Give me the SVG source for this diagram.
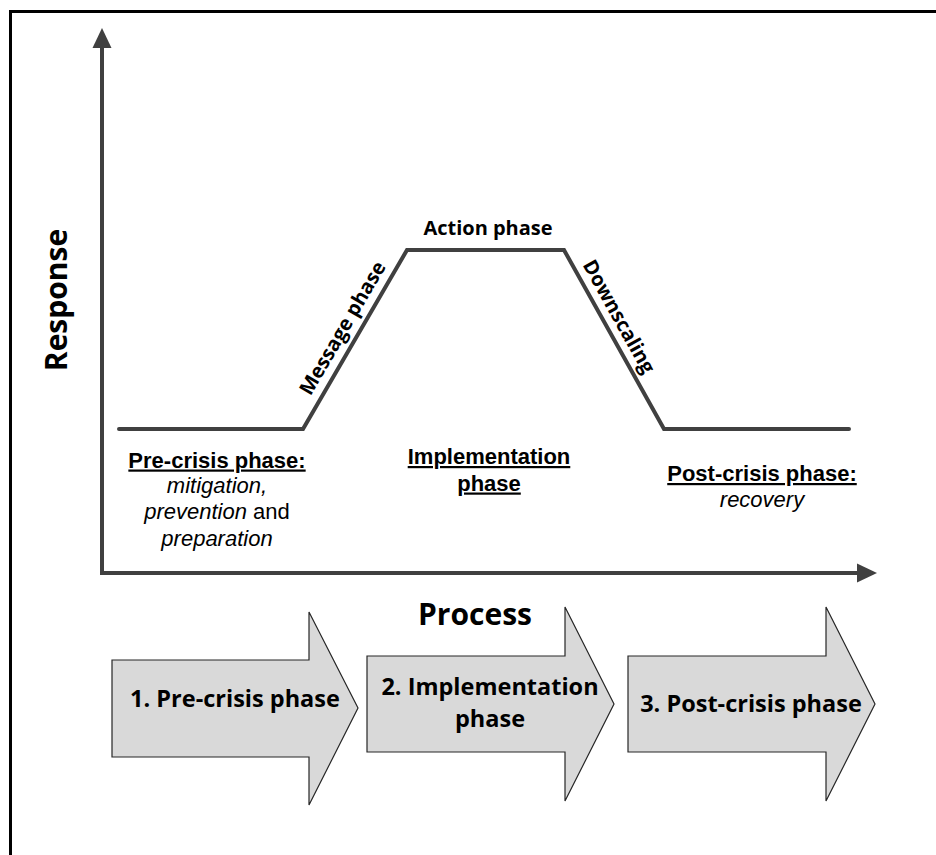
<svg xmlns="http://www.w3.org/2000/svg" width="936" height="855" viewBox="0 0 936 855">
<style>
.ax{fill:none;stroke:#404040;stroke-width:4;}
.head{fill:#404040;stroke:none;}
.cal{font-family:"Open Sans","Liberation Sans",sans-serif;font-weight:bold;fill:#000;}
.ar{font-family:"Liberation Sans",Arial,sans-serif;font-size:22px;fill:#000;text-anchor:middle;}
.ul{font-weight:bold;text-decoration:underline;}
.it{font-style:italic;}
.blk{fill:#d9d9d9;stroke:#262626;stroke-width:1.2;}
</style>
<rect x="10.5" y="11.5" width="940" height="860" fill="#fff" stroke="#000" stroke-width="3"/>
<g id="connectors">
<path class="ax" d="M102,46 L102,573 L859,573" stroke-linejoin="miter"/>
<polygon class="head" points="102,28 92.5,48 111.5,48"/>
<polygon class="head" points="877,573 857,563.5 857,582.5"/>
<polyline class="ax" points="119,429 303,429 407,250 564,250 664,429 849,429" stroke-linecap="round" stroke-linejoin="miter"/>
</g>
<g id="axis-labels">
<text class="cal" font-size="30" text-anchor="middle" transform="translate(67,300) rotate(-90)">Response</text>
<text class="cal" font-size="30" text-anchor="middle" x="475" y="625">Process</text>
</g>
<g id="curve-labels">
<text class="cal" font-size="20" text-anchor="middle" x="488" y="235">Action phase</text>
<text class="cal" font-size="20" text-anchor="middle" transform="translate(348.5,331.5) rotate(-59.8)">Message phase</text>
<text class="cal" font-size="20" text-anchor="middle" transform="translate(613,320) rotate(60.8)">Downscaling</text>
</g>
<g id="pre-crisis-label">
<text class="ar ul" x="217" y="467.5">Pre-crisis phase:</text>
<text class="ar" x="217" y="493"><tspan class="it">mitigation,</tspan></text>
<text class="ar" x="217" y="519"><tspan class="it">prevention</tspan> and</text>
<text class="ar" x="217" y="545.5"><tspan class="it">preparation</tspan></text>
</g>
<g id="implementation-label">
<text class="ar ul" x="489" y="464">Implementation</text>
<text class="ar ul" x="489" y="490.5">phase</text>
</g>
<g id="post-crisis-label">
<text class="ar ul" x="762" y="481">Post-crisis phase:</text>
<text class="ar it" x="762" y="506.5">recovery</text>
</g>
<g id="step1">
<polygon class="blk" points="112,660 309,660 309,612 358,708 309,805 309,757 112,757"/>
<text class="cal" font-size="23.5" text-anchor="middle" x="235" y="707">1. Pre-crisis phase</text>
</g>
<g id="step2">
<polygon class="blk" points="367,656 565,656 565,607 614,704 565,801 565,752 367,752"/>
<text class="cal" font-size="23.5" text-anchor="middle" x="490" y="695">2. Implementation</text>
<text class="cal" font-size="23.5" text-anchor="middle" x="490" y="727">phase</text>
</g>
<g id="step3">
<polygon class="blk" points="628,656 826,656 826,607 875,704 826,801 826,752 628,752"/>
<text class="cal" font-size="23.5" text-anchor="middle" x="751" y="712">3. Post-crisis phase</text>
</g>
</svg>
